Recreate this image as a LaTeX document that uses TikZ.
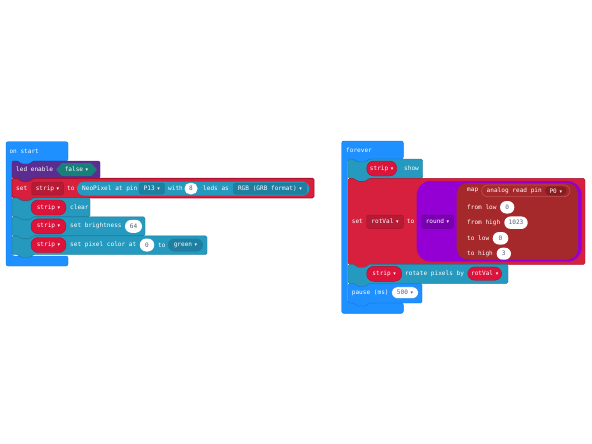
\documentclass[tikz,border=0pt]{standalone}
\usepackage{fontspec}
\newfontfamily\monof{DejaVu Sans Mono}
\newfontfamily\symf{DejaVu Sans}
\newcommand\dd{\hspace{2.6pt}{\symf\fontsize{5}{6}\selectfont ▾}}
\definecolor{mblue}{HTML}{1E90FF}
\definecolor{mblueD}{HTML}{1878DA}
\definecolor{mpurp}{HTML}{5C2D91}
\definecolor{mpurpD}{HTML}{4A2277}
\definecolor{mteal}{HTML}{2699BF}
\definecolor{mtealD}{HTML}{1E7FA1}
\definecolor{mtealB}{HTML}{1B7896}
\definecolor{mred}{HTML}{D6203E}
\definecolor{mredD}{HTML}{A8122C}
\definecolor{mredP}{HTML}{DC143C}
\definecolor{mlogic}{HTML}{17807A}
\definecolor{mmath}{HTML}{9400D3}
\definecolor{mmathD}{HTML}{7A00AF}
\definecolor{mmap}{HTML}{A5282B}
\definecolor{mmapD}{HTML}{8A1C20}
\definecolor{mmapB}{HTML}{C25457}
\definecolor{numgray}{HTML}{575E75}
\newcommand\stmtblk[5]{\draw[#5,rounded corners=1.5pt] (#1,#2) -- ({#1+6},#2) -- ({#1+9},{#2+3}) -- ({#1+18},{#2+3}) -- ({#1+21},#2) -- (#3,#2) -- (#3,#4) -- ({#1+21},#4) -- ({#1+18},{#4+3}) -- ({#1+9},{#4+3}) -- ({#1+6},#4) -- (#1,#4) -- cycle;}
\newcommand\cblk[7]{\draw[#7,rounded corners=2pt] (#1,#2) -- (#6,#2) -- (#6,#3) -- ({#1+6+21},#3) -- ({#1+6+18},{#3+3}) -- ({#1+6+9},{#3+3}) -- ({#1+6+6},#3) -- ({#1+6},#3) -- ({#1+6},#4) -- (#6,#4) -- (#6,#5) -- (#1,#5) -- cycle;}
\begin{document}
\begin{tikzpicture}[x=1pt,y=-1pt,
  tfont/.style={font=\monof\fontsize{6.1}{7}\selectfont},
  txt/.style={tfont, text=white, inner sep=0pt, anchor=west},
  pill/.style={tfont, text=white, inner sep=0pt, rounded corners=#1},
  numpill/.style={tfont, text=numgray, fill=white, inner sep=0pt, rounded corners=#1},
  redpill/.style={pill=7, fill=mredP, draw=mredD, line width=0.4pt, minimum width=35pt, minimum height=15pt},
  tealblk/.style={fill=mteal, draw=mtealB, line width=0.4pt},
  blueblk/.style={fill=mblue, draw=mblueD, line width=0.4pt}]
\fill[white] (0,0) rectangle (592,444);
\useasboundingbox (0,0) rectangle (592,444);

% ---------------- on start ----------------
\cblk{6}{141.7}{161}{256}{266}{68}{blueblk}
\node[txt] (onstart) at (9.3,151) {on start};

\stmtblk{12}{161}{100}{178.3}{fill=mpurp, draw=mpurpD, line width=0.4pt}
\node[txt] (ledenable) at (16,169.6) {led enable};
\fill[mlogic] (56,169.6) -- (62,163) -- (91,163) -- (97,169.6) -- (91,176.2) -- (62,176.2) -- cycle;
\node[tfont, text=white, inner sep=0pt] (false) at (76.5,169.6) {false\dd};

\stmtblk{12}{178.3}{314}{197.8}{fill=mred, draw=mredD, line width=0.9pt}
\node[txt] (set1) at (16,188.5) {set};
\node[pill=2, fill=mred!85!black, draw=mredD, line width=0.4pt, minimum width=31.6pt, minimum height=13pt] (strip1) at (47.5,188.5) {strip\dd};
\node[txt] (to1) at (67,188.5) {to};
\node[pill=7, fill=mteal, minimum width=232.5pt, minimum height=14pt] (neo) at (193.25,188.7) {};
\node[txt] (neotxt) at (82,188.7) {NeoPixel at pin};
\node[pill=2, fill=mtealD, draw=mtealB, line width=0.3pt, minimum width=25.5pt, minimum height=11pt] (p13) at (151.75,188.6) {P13\dd};
\node[txt] (with) at (168,188.6) {with};
\node[numpill=5.5, minimum width=13pt, minimum height=11.5pt] (eight) at (191,188.6) {8};
\node[txt] (ledsas) at (203,188.6) {leds as};
\node[pill=2, fill=mtealD, draw=mtealB, line width=0.3pt, minimum width=73.5pt, minimum height=11pt] (rgb) at (270,188.6) {RGB (GRB format)\dd};

\stmtblk{12}{197.8}{90}{216.8}{tealblk}
\node[redpill] (strip2) at (48.5,207.5) {strip\dd};
\node[txt] (clear) at (70,207.5) {clear};

\stmtblk{12}{216.8}{145}{235.8}{tealblk}
\node[redpill] (strip3) at (48.5,226.3) {strip\dd};
\node[txt] (setbr) at (70,226.3) {set brightness};
\node[numpill=6.5, minimum width=17pt, minimum height=13pt] (n64) at (133.5,226.3) {64};

\stmtblk{12}{235.8}{207}{254.5}{tealblk}
\node[redpill] (strip4) at (48.5,245) {strip\dd};
\node[txt] (setpix) at (70,245) {set pixel color at};
\node[numpill=6.5, minimum width=14.5pt, minimum height=13pt] (n0a) at (147,245) {0};
\node[txt] (to2) at (158,245) {to};
\node[pill=6.5, fill=mtealD, minimum width=35pt, minimum height=13pt] (green) at (185.5,245) {green\dd};

% ---------------- forever ----------------
\cblk{341.7}{141}{159}{303}{313.3}{403.3}{blueblk}
\node[txt] (forever) at (346,150.5) {forever};

\stmtblk{348}{159}{422.7}{178.3}{tealblk}
\node[redpill, minimum width=30pt] (strip5) at (381.7,168.5) {strip\dd};
\node[txt] (show) at (404,168.5) {show};

\stmtblk{348}{178.3}{585}{264.3}{fill=mred, draw=mredD, line width=0.4pt}
\node[txt] (set2) at (351.7,221.7) {set};
\node[pill=2, fill=mred!85!black, draw=mredD, line width=0.4pt, minimum width=36.6pt, minimum height=13.3pt] (rotval1) at (385,221.7) {rotVal\dd};
\node[txt] (to3) at (406.7,221.7) {to};

\fill[mmath, rounded corners=14pt] (416.7,181) rectangle (581.7,261.7);
\node[pill=2, fill=mmathD, draw=mmathD!80!black, line width=0.4pt, minimum width=31.6pt, minimum height=13.3pt] (round) at (437.5,221.7) {round\dd};

\fill[mmap, rounded corners=11pt] (456.7,183) rectangle (578,259.5);
\node[txt] (map) at (467,190.8) {map};
\node[pill=5.85, fill=mmap, draw=mmapB, line width=0.6pt, minimum width=88.3pt, minimum height=11.7pt] (analog) at (525.8,190.8) {};
\node[txt] (analogtxt) at (486.5,190.8) {analog read pin};
\node[pill=4.5, fill=mmapD, minimum width=21.7pt, minimum height=9pt] (p0) at (555.8,190.8) {P0\dd};
\node[txt] (fromlow) at (467,207.3) {from low};
\node[numpill=6.2, minimum width=14.3pt, minimum height=12.5pt] (n0b) at (507.2,207.3) {0};
\node[txt] (fromhigh) at (467,222.7) {from high};
\node[numpill=6.2, minimum width=23.4pt, minimum height=12.5pt] (n1023) at (516,222.7) {1023};
\node[txt] (tolow) at (467,238.3) {to low};
\node[numpill=6.2, minimum width=15.6pt, minimum height=12.5pt] (n0c) at (500.5,238.3) {0};
\node[txt] (tohigh) at (467,253.7) {to high};
\node[numpill=6, minimum width=14.3pt, minimum height=12pt] (n3) at (503.8,253.7) {3};

\stmtblk{348}{264.3}{508}{283.3}{tealblk}
\node[redpill] (strip6) at (384.2,273.8) {strip\dd};
\node[txt] (rotate) at (405,273.8) {rotate pixels by};
\node[redpill, minimum width=34pt, minimum height=13.3pt] (rotval2) at (484.7,273.6) {rotVal\dd};

\stmtblk{348}{283.3}{422}{303}{blueblk}
\node[txt] (pause) at (351.7,292.7) {pause (ms)};
\node[numpill=5.75, minimum width=26.6pt, minimum height=11.5pt, draw=mblueD, line width=0.3pt] (n500) at (405,292.7) {500\dd};
\end{tikzpicture}
\end{document}
